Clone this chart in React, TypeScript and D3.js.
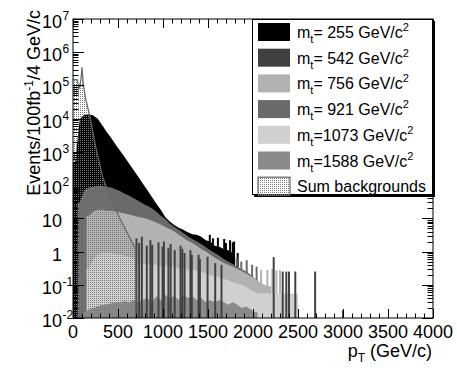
import React, { Component } from "react";
import * as d3 from "d3";

// all histograms use 50 GeV bins, value given at bin centre
const binWidth = 50;

const m255Start = 0;
const m255 = [500, 1.0e4, 1.3e4, 1.35e4, 1.25e4, 1.0e4, 6300, 4000, 2600, 1650, 1070, 690, 440, 280, 180, 112, 71, 45, 28, 18,
  11, 8, 6.3, 5.2, 4.5, 3.8, 3.3, 3.2, 2.8, 2.2, 2.0, 1.5, 1.4, 1.2, 1.1, 0.9];

const m921Start = 50;
const m921 = [30, 70, 85, 90, 95, 95, 90, 85, 75, 65, 55, 48, 40, 34, 28, 24, 20, 16, 12, 9.5,
  7, 5.6, 4.5, 3.6, 2.9, 2.4, 2.0, 1.7, 1.35, 1.1, 0.9, 0.75, 0.6, 0.5, 0.42, 0.35, 0.3, 0.25, 0.2, 0.15];

const m756Start = 150;
const m756 = [12, 16, 18, 18, 17, 17, 16, 15, 14, 13, 12, 11, 10.5, 9.5, 8.5, 7.5, 6.5, 5.5, 4.8, 4.0,
  3.2, 2.6, 2.1, 1.8, 1.5, 1.2, 1.0, 0.8, 0.65, 0.55, 0.45, 0.4, 0.35, 0.3, 0.26, 0.22, 0.18, 0.15, 0.12, 0.1, 0.09];

const m1073Start = 150;
const m1073 = [0.3, 0.6, 0.8, 0.9, 0.9, 0.9, 0.85, 0.8, 0.75, 0.7, 0.6, 0.45, 0.4, 0.42, 0.38, 0.4, 0.35, 0.38, 0.33, 0.35,
  0.3, 0.32, 0.28, 0.3, 0.26, 0.25, 0.22, 0.2, 0.18, 0.17, 0.15, 0.14, 0.12, 0.11, 0.1, 0.085, 0.07, 0.06, 0.055, 0.056,
  0.055, 0.056, 0.055, 0.055, 0.056, 0.055, 0.054];

const m1588Start = 100;
const m1588 = [0.015, 0.018, 0.02, 0.022, 0.025, 0.025, 0.028, 0.03, 0.03, 0.032, 0.03, 0.035, 0.03, 0.035, 0.04, 0.03, 0.045, 0.035, 0.05, 0.04,
  0.045, 0.035, 0.05, 0.04, 0.045, 0.035, 0.04, 0.03, 0.035, 0.03, 0.035, 0.03, 0.025, 0.03, 0.025, 0.02, 0.022, 0.018, 0.015];

// single narrow bins sticking out of the smooth part: [pT, events]
const spikes255 = [[1520, 3.2], [1555, 2.5], [1610, 2.6], [1680, 2.4], [1700, 1.8], [1745, 2.2], [1775, 1.9], [1790, 2.0], [1830, 0.9]];
const spikes921 = [[1820, 0.65], [1870, 0.5], [1930, 0.55], [1990, 0.4], [2040, 0.35]];
const spikes756 = [[2090, 0.28], [2160, 0.28], [2215, 0.3], [2260, 0.27], [2300, 0.27]];
const spikes542 = [[705, 2.5], [735, 1.8], [765, 2.8], [820, 1.5], [860, 2.2], [880, 1.6], [950, 1.9], [995, 1.4], [1010, 2.0],
  [1060, 1.3], [1085, 1.7], [1130, 1.1], [1195, 1.5], [1215, 1.2], [1240, 0.9], [1305, 1.1], [1320, 0.8], [1395, 0.8],
  [1410, 0.6], [1495, 0.7], [1580, 0.45], [1650, 0.4], [2230, 0.68], [2330, 0.25], [2370, 0.25], [2400, 0.25],
  [2470, 0.25], [2690, 0.25], [3000, 0.017]];

// sum of backgrounds, drawn as a line through these points
const bkgPoints = [[0, 1.5e5], [45, 1.5e5], [70, 8e4], [88, 1.5e5], [100, 3.5e5], [113, 1.2e5], [140, 4e4], [190, 1.1e4],
  [250, 1.5e3], [333, 160], [420, 40], [520, 10], [620, 3], [695, 1.2]];

const legendLabels = ["= 255 GeV/c", "= 542 GeV/c", "= 756 GeV/c", "= 921 GeV/c", "=1073 GeV/c", "=1588 GeV/c"];
const legendColors = ["#000000", "#404040", "#b2b2b2", "#6a6a6a", "#d0d0d0", "#8a8a8a"];

const xTicks = [0, 500, 1000, 1500, 2000, 2500, 3000, 3500, 4000];
const decades = [-2, -1, 0, 1, 2, 3, 4, 5, 6, 7];

class App extends Component {
  componentDidMount() {
    this.renderChart();
  }

  renderChart = () => {
    const width = 457;
    const height = 380;
    const left = 73, right = 433, top = 19, bottom = 318;
    const font = "Liberation Sans, Arial, Helvetica, sans-serif";

    const svg = d3.select("#chart");
    svg.selectAll("*").remove();
    svg.attr("width", width).attr("height", height);

    const x = d3.scaleLinear().domain([0, 4000]).range([left, right]);
    const y = d3.scaleLog().domain([0.01, 1e7]).range([bottom, top]);

    const defs = svg.append("defs");
    defs.append("clipPath").attr("id", "frame").append("rect")
      .attr("x", left).attr("y", top).attr("width", right - left).attr("height", bottom - top);
    const pat = defs.append("pattern").attr("id", "dots").attr("patternUnits", "userSpaceOnUse")
      .attr("x", 0).attr("y", 0).attr("width", 2).attr("height", 2);
    pat.append("rect").attr("x", 0).attr("y", 0).attr("width", 1).attr("height", 1).attr("fill", "#7a7a7a");

    svg.append("rect").attr("width", width).attr("height", height).attr("fill", "white");

    const plot = svg.append("g").attr("clip-path", "url(#frame)");

    const area = d3.area<number[]>().x(d => x(d[0])).y0(y(0.01)).y1(d => y(Math.max(d[1], 0.01))).curve(d3.curveLinear);

    const histPoints = (start: number, vals: number[]) => {
      const pts = [[start, vals[0]]];
      vals.forEach((v, i) => pts.push([start + binWidth * (i + 0.5), v]));
      pts.push([start + binWidth * vals.length, vals[vals.length - 1]]);
      return pts;
    };

    const drawHist = (start: number, vals: number[], color: string) => {
      plot.append("path").datum(histPoints(start, vals)).attr("d", area).attr("fill", color);
    };

    const drawSpikes = (list: number[][], color: string) => {
      plot.append("g").selectAll("rect").data(list).join("rect")
        .attr("x", d => x(d[0] - 11)).attr("width", x(22) - x(0))
        .attr("y", d => y(d[1])).attr("height", d => y(0.01) - y(d[1]))
        .attr("fill", color);
    };

    drawHist(m255Start, m255, legendColors[0]);
    drawSpikes(spikes255, legendColors[0]);
    drawHist(m921Start, m921, legendColors[3]);
    drawSpikes(spikes921, legendColors[3]);
    drawHist(m756Start, m756, legendColors[2]);
    drawSpikes(spikes756, legendColors[2]);
    drawHist(m1073Start, m1073, legendColors[4]);
    drawHist(m1588Start, m1588, legendColors[5]);
    drawSpikes(spikes542, legendColors[1]);

    const bkg = [...bkgPoints, [700, 0.01]];
    plot.append("path").datum(bkg).attr("d", area).attr("fill", "url(#dots)");
    plot.append("path").datum(bkg)
      .attr("d", d3.line<number[]>().x(d => x(d[0])).y(d => y(d[1])))
      .attr("fill", "none").attr("stroke", "#666").attr("stroke-width", 1.2);

    // frame and ticks
    svg.append("rect").attr("x", left).attr("y", top).attr("width", right - left).attr("height", bottom - top)
      .attr("fill", "none").attr("stroke", "black").attr("stroke-width", 1);

    const ticks = svg.append("g").attr("stroke", "black").attr("stroke-width", 1);
    for (let v = 0; v <= 4000; v += 100) {
      const len = v % 500 === 0 ? 9 : 4.5;
      const xx = Math.round(x(v)) + 0.5;
      ticks.append("line").attr("x1", xx).attr("x2", xx).attr("y1", bottom).attr("y2", bottom - len);
      ticks.append("line").attr("x1", xx).attr("x2", xx).attr("y1", top).attr("y2", top + len);
    }
    decades.forEach(e => {
      for (let m = 1; m <= 9; m++) {
        if (e === 7 && m > 1) continue;
        const yy = Math.round(y(m * Math.pow(10, e))) + 0.5;
        const len = m === 1 ? 11 : 5.5;
        ticks.append("line").attr("x1", left).attr("x2", left + len).attr("y1", yy).attr("y2", yy);
        ticks.append("line").attr("x1", right).attr("x2", right - len).attr("y1", yy).attr("y2", yy);
      }
    });

    svg.append("g").selectAll("text").data(xTicks).join("text")
      .attr("x", d => x(d)).attr("y", 338).attr("text-anchor", "middle")
      .style("font-family", font).style("font-size", "18px").text(d => d);

    decades.forEach(e => {
      const yy = y(Math.pow(10, e));
      const t = svg.append("text").attr("x", 62).attr("y", yy + 9).attr("text-anchor", "end")
        .style("font-family", font).style("font-size", "18px");
      if (e === 0) t.text("1");
      else if (e === 1) t.text("10");
      else {
        t.text("10");
        svg.append("text").attr("x", 62.5).attr("y", yy + 1).style("font-family", font).style("font-size", "12px").text(e);
      }
    });

    const xt = svg.append("text").attr("x", 432).attr("y", 357).attr("text-anchor", "end")
      .style("font-family", font).style("font-size", "18px");
    xt.append("tspan").text("p");
    xt.append("tspan").attr("dy", 5).style("font-size", "12px").text("T");
    xt.append("tspan").attr("dy", -5).text(" (GeV/c)");

    const yt = svg.append("text").attr("transform", "translate(40,10) rotate(-90)").attr("text-anchor", "end")
      .style("font-family", font).style("font-size", "18px");
    yt.append("tspan").text("Events/100fb");
    yt.append("tspan").attr("dy", -7).style("font-size", "12px").text("-1");
    yt.append("tspan").attr("dy", 7).text("/4 GeV/c");

    // legend
    const lg = svg.append("g");
    lg.append("rect").attr("x", 254).attr("y", 21).attr("width", 181).attr("height", 176).attr("fill", "black");
    lg.append("rect").attr("x", 252.5).attr("y", 19.5).attr("width", 180).attr("height", 175)
      .attr("fill", "white").attr("stroke", "black");
    const rowY = (i: number) => 32 + i * 25.7;
    legendLabels.forEach((lab, i) => {
      lg.append("rect").attr("x", 258).attr("y", rowY(i) - 9).attr("width", 32).attr("height", 18).attr("fill", legendColors[i]);
      const t = lg.append("text").attr("x", 297).attr("y", rowY(i) + 6).style("font-family", font).style("font-size", "16px");
      t.append("tspan").text("m");
      t.append("tspan").attr("dy", 5).style("font-size", "11px").text("t");
      t.append("tspan").attr("dy", -5).text(lab);
      t.append("tspan").attr("dy", -7).style("font-size", "11px").text("2");
    });
    const bi = legendLabels.length;
    lg.append("rect").attr("x", 258).attr("y", rowY(bi) - 9).attr("width", 32).attr("height", 18)
      .attr("fill", "url(#dots)").attr("stroke", "#666").attr("stroke-width", 1.2);
    lg.append("text").attr("x", 297).attr("y", rowY(bi) + 6).style("font-family", font).style("font-size", "16px")
      .text("Sum backgrounds");
  };

  render() {
    return (
      <div>
        <svg id="chart" style={{ position: "absolute", left: 0, top: 0 }}></svg>
      </div>
    );
  }
}

export default App;
